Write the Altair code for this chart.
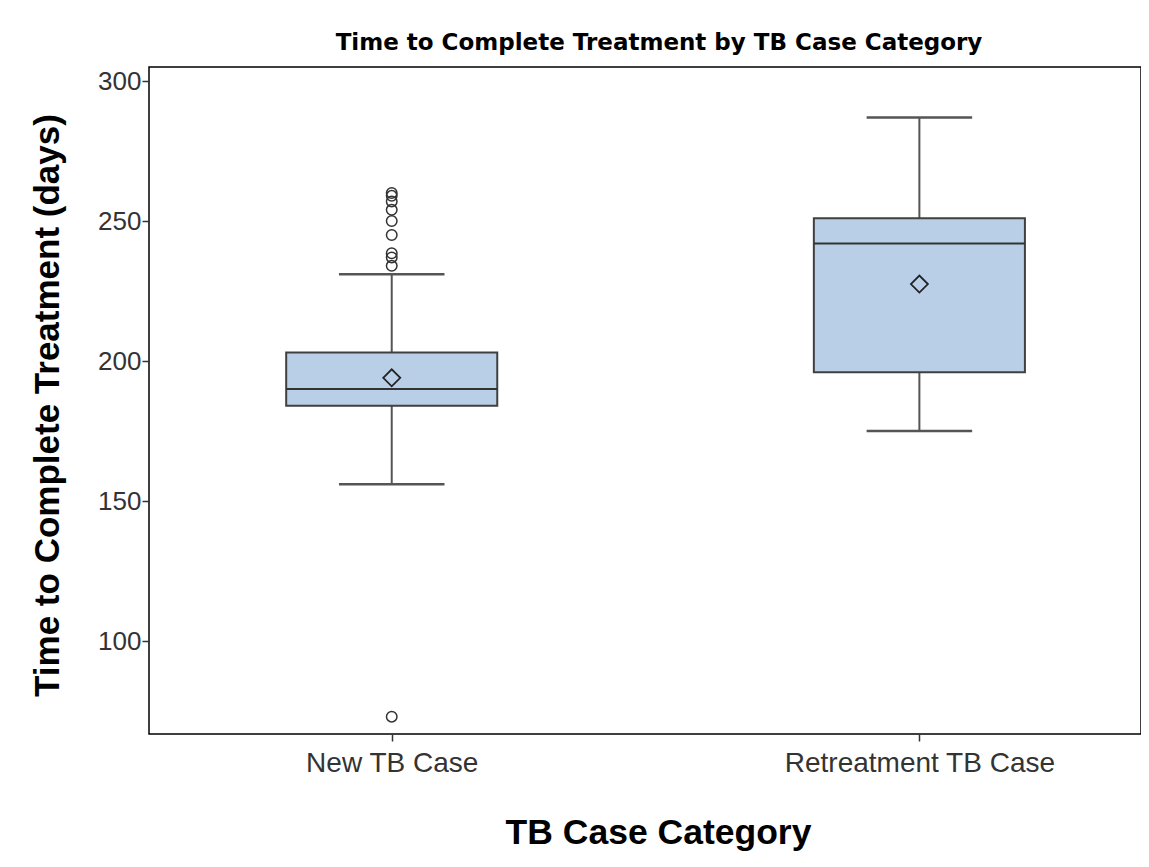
import altair as alt
import pandas as pd

# ---- data ----
categories = ["New TB Case", "Retreatment TB Case"]
positions = [1, 2]
q1 = [184, 196]
median = [190, 242]
q3 = [203, 251]
mean = [194, 227.5]
whisker_low = [156, 175]
whisker_high = [231, 287]

outlier_values_new = [260, 259, 257, 254, 250, 245, 238.5, 237, 234, 73]

box_df = pd.DataFrame({
    "cat": categories, "pos": positions, "q1": q1, "median": median,
    "q3": q3, "mean": mean, "lo": whisker_low, "hi": whisker_high,
})
out_df = pd.DataFrame({
    "cat": [categories[0]] * len(outlier_values_new),
    "pos": [positions[0]] * len(outlier_values_new),
    "value": outlier_values_new,
})

label_expr = " : ".join(
    [f"datum.value == {p} ? '{c}'" for p, c in zip(positions, categories)]
) + " : ''"

x_scale = alt.Scale(domain=[0.54, 2.42], nice=False, zero=False)
y_scale = alt.Scale(domain=[66.8, 305], nice=False, zero=False)

x_axis = alt.Axis(
    values=positions, labelExpr=label_expr, grid=False, domain=False,
    tickSize=7, tickColor="#333333", tickWidth=1.5,
    labelFont="Liberation Sans", labelFontSize=28, labelColor="#333333",
    labelPadding=8, labelLimit=0,
    title="TB Case Category", titleFont="Liberation Sans", titleFontSize=35.5,
    titleFontWeight="bold", titleColor="#000000",
    titleX=509, titleY=98, titleBaseline="middle",
)
y_axis = alt.Axis(
    values=[100, 150, 200, 250, 300], grid=False, domain=False,
    tickSize=7, tickColor="#333333", tickWidth=1.5,
    labelFont="Liberation Sans Narrow, Liberation Sans", labelFontSize=26,
    labelColor="#333333", labelPadding=1,
    title="Time to Complete Treatment (days)", titleFont="Liberation Sans",
    titleFontSize=35, titleFontWeight="bold", titleColor="#000000",
    titleAngle=-90, titleX=-102, titleY=338, titleAlign="center",
    titleBaseline="middle",
)

base = alt.Chart(box_df).transform_calculate(
    x_lo="datum.pos - 0.2", x_hi="datum.pos + 0.2",
    c_lo="datum.pos - 0.1", c_hi="datum.pos + 0.1",
)

whisker_upper = base.mark_rule(color="#555555", strokeWidth=2).encode(
    x=alt.X("pos:Q", scale=x_scale, axis=x_axis),
    y=alt.Y("q3:Q", scale=y_scale, axis=y_axis),
    y2="hi:Q",
)
whisker_lower = base.mark_rule(color="#555555", strokeWidth=2).encode(
    x="pos:Q", y="lo:Q", y2="q1:Q",
)
cap_hi = base.mark_rule(color="#555555", strokeWidth=2.5).encode(
    x="c_lo:Q", x2="c_hi:Q", y="hi:Q",
)
cap_lo = base.mark_rule(color="#555555", strokeWidth=2.5).encode(
    x="c_lo:Q", x2="c_hi:Q", y="lo:Q",
)
box = base.mark_bar(fill="#B9CFE8", stroke="#404040", strokeWidth=2).encode(
    x="x_lo:Q", x2="x_hi:Q", y="q1:Q", y2="q3:Q",
)
med = base.mark_rule(color="#333333", strokeWidth=2).encode(
    x="x_lo:Q", x2="x_hi:Q", y="median:Q",
)
mean_pt = base.mark_point(shape="diamond", size=290, filled=False,
                          color="#222222", strokeWidth=1.8, opacity=1).encode(
    x="pos:Q", y="mean:Q",
)
outliers = alt.Chart(out_df).mark_point(shape="circle", size=110, filled=False,
                                         color="#333333", strokeWidth=1.5,
                                         opacity=1).encode(
    x="pos:Q", y="value:Q",
)

chart = alt.layer(
    whisker_upper, whisker_lower, cap_hi, cap_lo, box, med, mean_pt, outliers
).properties(
    width=992, height=667,
    title=alt.TitleParams(
        "Time to Complete Treatment by TB Case Category",
        font="DejaVu Sans", fontSize=23, fontWeight="bold",
        color="#000000", anchor="middle", offset=12, dx=14,
    ),
    autosize=alt.AutoSizeParams(type="none"),
    padding={"left": 141, "top": 59, "right": 0, "bottom": 125},
).configure(
    background="#ffffff",
    view=alt.ViewConfig(stroke="#000000", strokeWidth=1.5),
)

chart.save("out.html", embed_options={"renderer": "svg", "actions": False})
